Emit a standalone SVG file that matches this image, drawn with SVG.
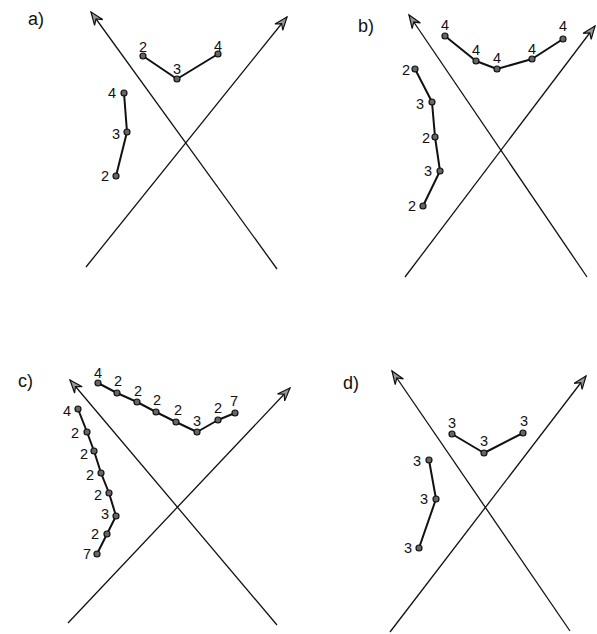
<svg xmlns="http://www.w3.org/2000/svg" width="597" height="634" viewBox="0 0 597 634">
<style>
.ax{stroke:#111;stroke-width:1.3;fill:none;marker-end:url(#ah)}
.pl{stroke:#111;stroke-width:2;fill:none;stroke-linejoin:round}
.pt{fill:#666;stroke:#111;stroke-width:1.2}
.lb{font-family:"Liberation Sans",Arial,sans-serif;font-size:14.5px;fill:#111}
.c{text-anchor:middle}
.pn{font-family:"Liberation Sans",Arial,sans-serif;font-size:18px;fill:#111}
</style>
<defs>
<marker id="ah" markerUnits="userSpaceOnUse" markerWidth="20" markerHeight="14" refX="0" refY="0" viewBox="-15 -7 16 14" orient="auto" overflow="visible">
<path d="M0,0 L-13,-5 L-8.5,0 L-13,5 Z" fill="#999" stroke="#111" stroke-width="1.2" stroke-linejoin="miter"/>
</marker>
</defs>
<rect width="597" height="634" fill="#fff"/>
<g id="connectors">
<line class="ax" x1="277" y1="269" x2="91" y2="12"/>
<line class="ax" x1="86" y1="267" x2="287" y2="17"/>
<line class="ax" x1="587" y1="277" x2="409" y2="15"/>
<line class="ax" x1="405" y1="277" x2="595" y2="26"/>
<line class="ax" x1="277" y1="625" x2="70" y2="380"/>
<line class="ax" x1="68" y1="623" x2="290" y2="388"/>
<line class="ax" x1="570" y1="631" x2="392" y2="371"/>
<line class="ax" x1="390" y1="632" x2="586" y2="376"/>
<polyline class="pl" points="143,56 177,79 218,54"/>
<polyline class="pl" points="124,93 127,132 116,176"/>
<polyline class="pl" points="445,36 476,61 497,69 532,59 563,39"/>
<polyline class="pl" points="415,69 432,102 435,137 440,171 423,206"/>
<polyline class="pl" points="98,383 117,393 137,402 156,412 176,422 197,432 218,420 235,413"/>
<polyline class="pl" points="78,409 87,432 94,451 101,473 109,493 116,516 107,534 97,554"/>
<polyline class="pl" points="452,434 484,453 523,433"/>
<polyline class="pl" points="429,460 436,499 419,548"/>
</g>
<g id="panel-a">
<text class="pn" x="28" y="25">a)</text>
<g id="a-top">
<circle class="pt" cx="143" cy="56" r="3"/><circle class="pt" cx="177" cy="79" r="3"/><circle class="pt" cx="218" cy="54" r="3"/>
<text class="lb c" x="143" y="52">2</text><text class="lb c" x="177" y="74">3</text><text class="lb c" x="218" y="51">4</text>
</g>
<g id="a-left">
<circle class="pt" cx="124" cy="93" r="3"/><circle class="pt" cx="127" cy="132" r="3"/><circle class="pt" cx="116" cy="176" r="3"/>
<text class="lb c" x="112" y="98">4</text><text class="lb c" x="116" y="139">3</text><text class="lb c" x="105" y="181">2</text>
</g>
</g>
<g id="panel-b">
<text class="pn" x="358" y="32">b)</text>
<g id="b-top">
<circle class="pt" cx="445" cy="36" r="3"/><circle class="pt" cx="476" cy="61" r="3"/><circle class="pt" cx="497" cy="69" r="3"/><circle class="pt" cx="532" cy="59" r="3"/><circle class="pt" cx="563" cy="39" r="3"/>
<text class="lb c" x="445" y="30">4</text><text class="lb c" x="476" y="55">4</text><text class="lb c" x="497" y="63">4</text><text class="lb c" x="532" y="54">4</text><text class="lb c" x="563" y="31">4</text>
</g>
<g id="b-left">
<circle class="pt" cx="415" cy="69" r="3"/><circle class="pt" cx="432" cy="102" r="3"/><circle class="pt" cx="435" cy="137" r="3"/><circle class="pt" cx="440" cy="171" r="3"/><circle class="pt" cx="423" cy="206" r="3"/>
<text class="lb c" x="406" y="75">2</text><text class="lb c" x="420" y="109">3</text><text class="lb c" x="426" y="143">2</text><text class="lb c" x="428" y="176">3</text><text class="lb c" x="412" y="211">2</text>
</g>
</g>
<g id="panel-c">
<text class="pn" x="18" y="387">c)</text>
<g id="c-top">
<circle class="pt" cx="98" cy="383" r="3"/><circle class="pt" cx="117" cy="393" r="3"/><circle class="pt" cx="137" cy="402" r="3"/><circle class="pt" cx="156" cy="412" r="3"/><circle class="pt" cx="176" cy="422" r="3"/><circle class="pt" cx="197" cy="432" r="3"/><circle class="pt" cx="218" cy="420" r="3"/><circle class="pt" cx="235" cy="413" r="3"/>
<text class="lb c" x="98" y="378">4</text><text class="lb c" x="118" y="386">2</text><text class="lb c" x="138" y="396">2</text><text class="lb c" x="157" y="405">2</text><text class="lb c" x="178" y="415">2</text><text class="lb c" x="197" y="426">3</text><text class="lb c" x="218" y="413">2</text><text class="lb c" x="234" y="406">7</text>
</g>
<g id="c-left">
<circle class="pt" cx="78" cy="409" r="3"/><circle class="pt" cx="87" cy="432" r="3"/><circle class="pt" cx="94" cy="451" r="3"/><circle class="pt" cx="101" cy="473" r="3"/><circle class="pt" cx="109" cy="493" r="3"/><circle class="pt" cx="116" cy="516" r="3"/><circle class="pt" cx="107" cy="534" r="3"/><circle class="pt" cx="97" cy="554" r="3"/>
<text class="lb c" x="67" y="416">4</text><text class="lb c" x="75" y="438">2</text><text class="lb c" x="84" y="459">2</text><text class="lb c" x="90" y="480">2</text><text class="lb c" x="98" y="500">2</text><text class="lb c" x="105" y="519">3</text><text class="lb c" x="95" y="539">2</text><text class="lb c" x="87" y="559">7</text>
</g>
</g>
<g id="panel-d">
<text class="pn" x="343" y="389">d)</text>
<g id="d-top">
<circle class="pt" cx="452" cy="434" r="3"/><circle class="pt" cx="484" cy="453" r="3"/><circle class="pt" cx="523" cy="433" r="3"/>
<text class="lb c" x="452" y="428">3</text><text class="lb c" x="484" y="446">3</text><text class="lb c" x="524" y="426">3</text>
</g>
<g id="d-left">
<circle class="pt" cx="429" cy="460" r="3"/><circle class="pt" cx="436" cy="499" r="3"/><circle class="pt" cx="419" cy="548" r="3"/>
<text class="lb c" x="417" y="466">3</text><text class="lb c" x="424" y="504">3</text><text class="lb c" x="408" y="553">3</text>
</g>
</g>
</svg>
